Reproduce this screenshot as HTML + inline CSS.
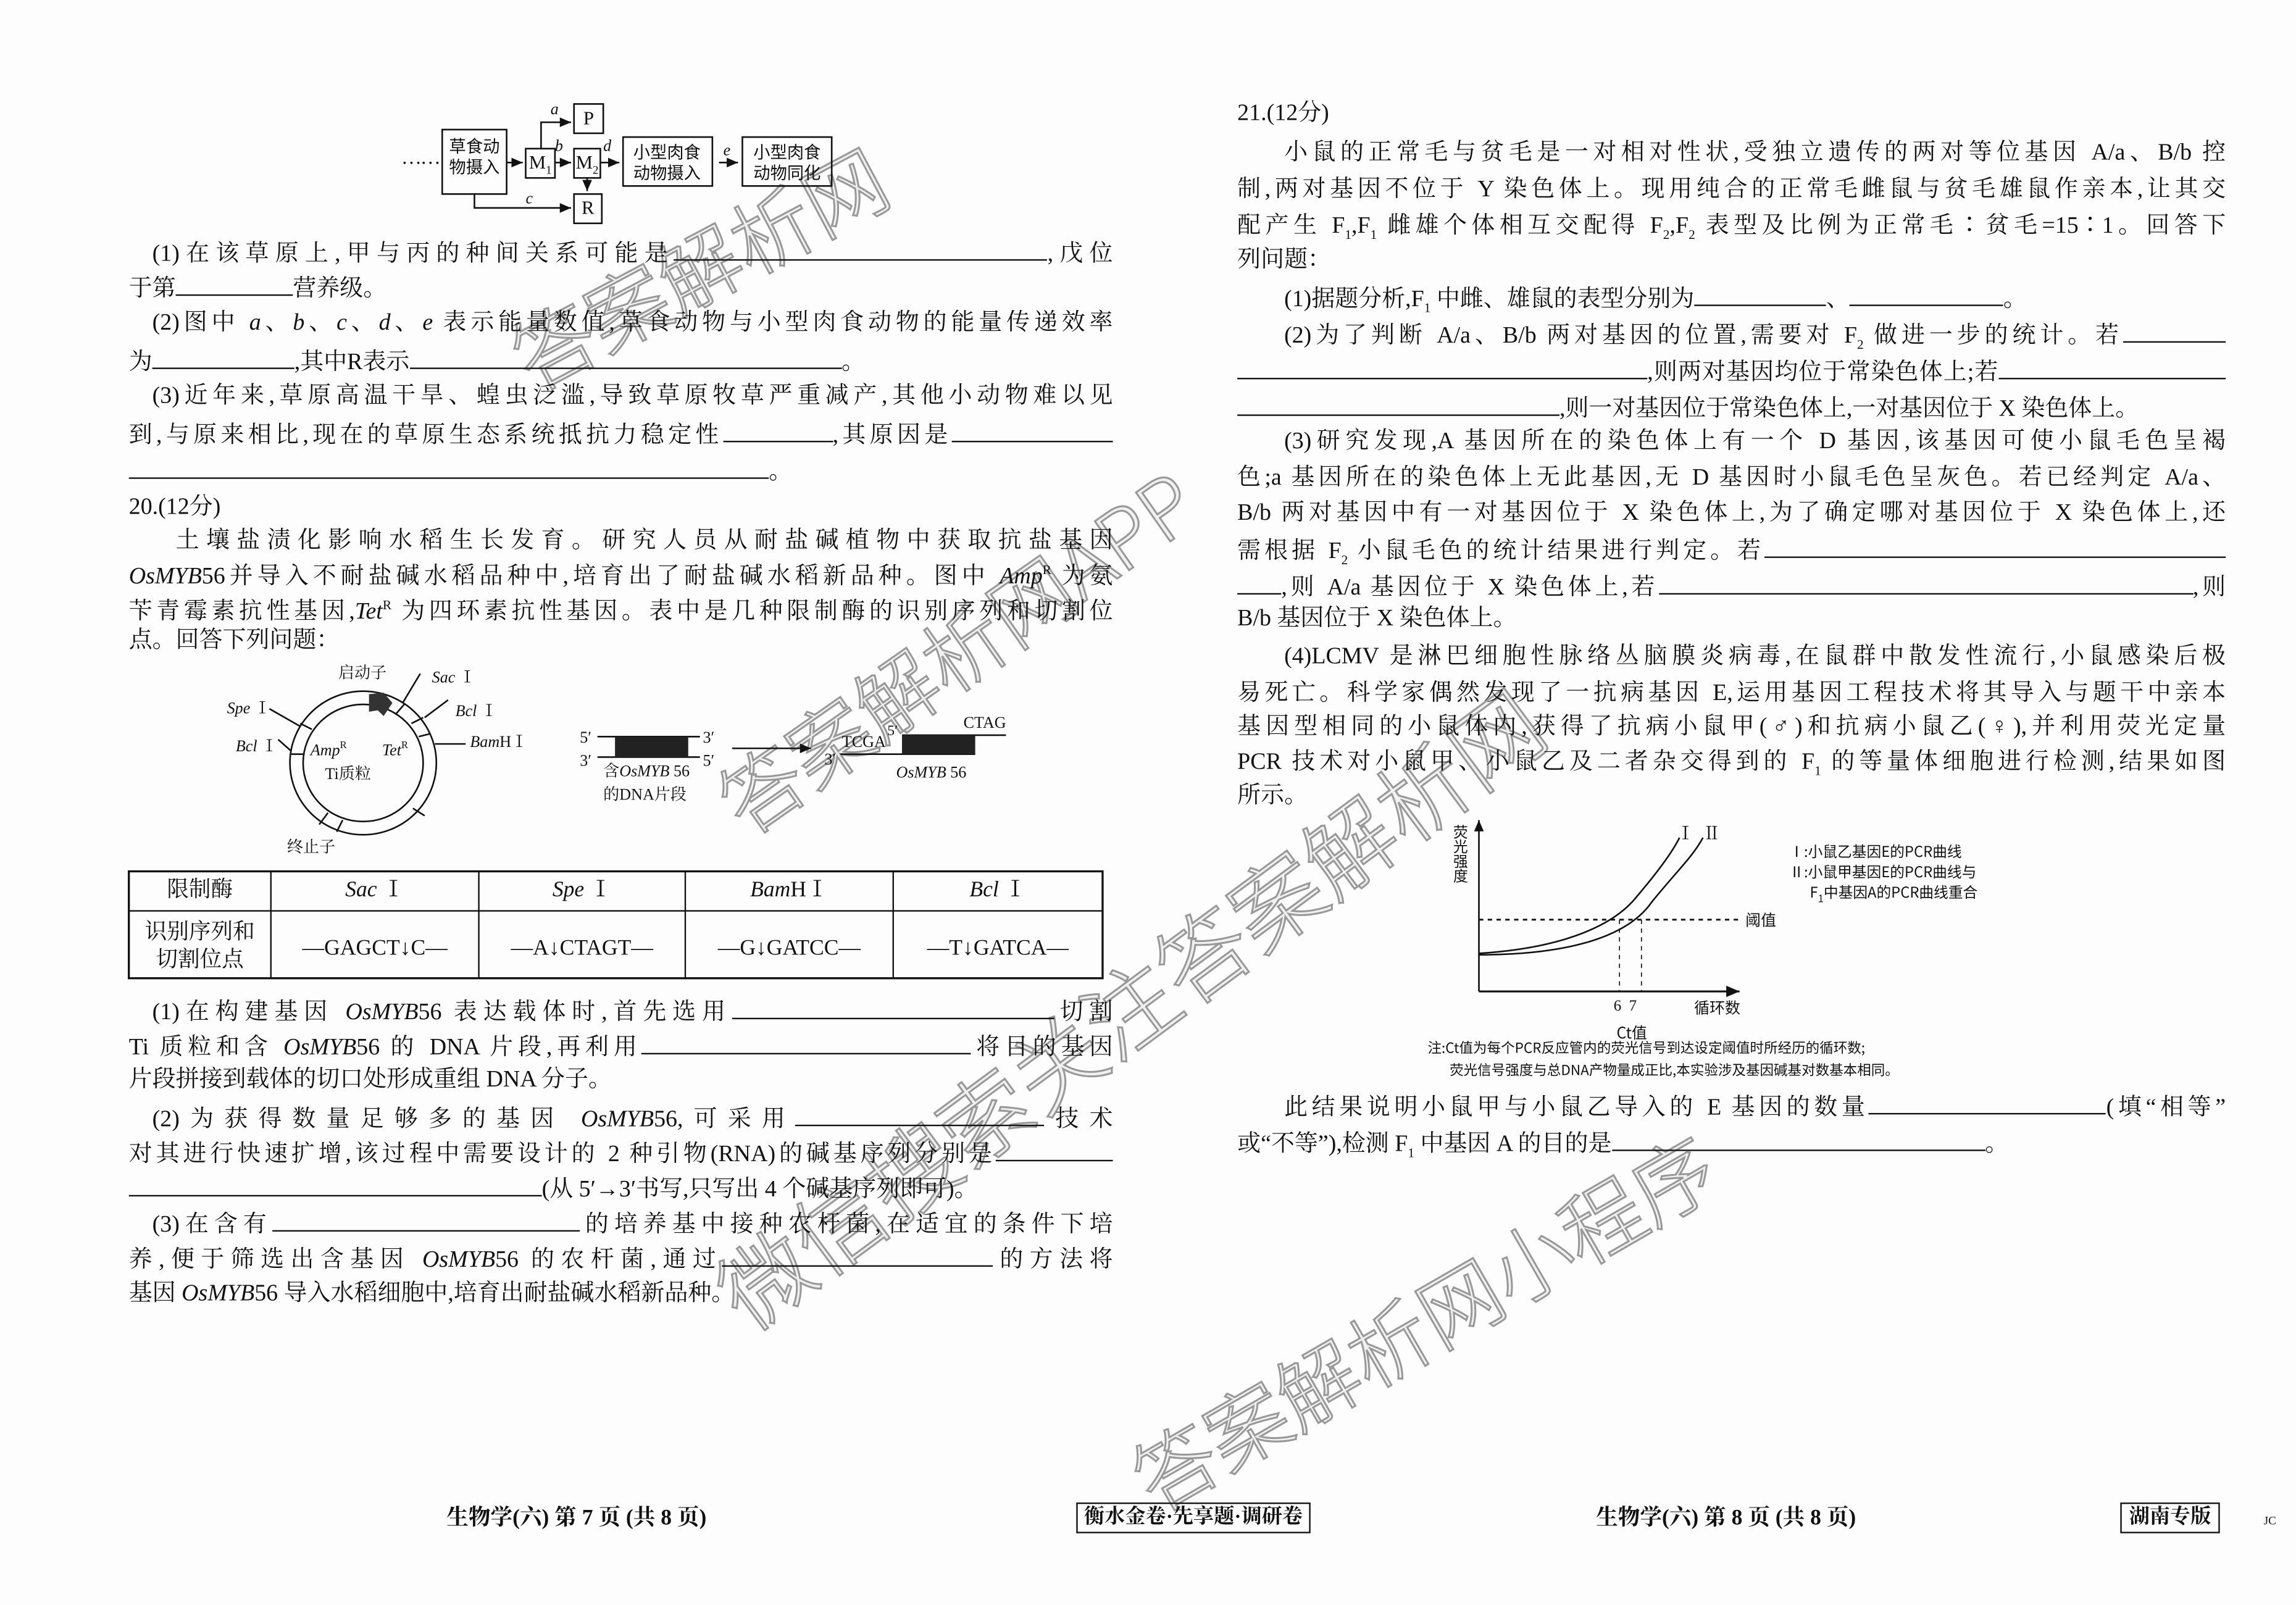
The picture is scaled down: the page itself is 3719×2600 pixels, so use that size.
<!DOCTYPE html>
<html><head><meta charset="utf-8">
<style>
html,body{margin:0;padding:0;background:#fff;}
#wrap{width:3719px;height:2600px;overflow:hidden;position:relative;background:#fdfdfd;}
#c{position:absolute;left:0;top:0;width:1568px;height:1096px;transform:scale(2.3718,2.3723);transform-origin:0 0;font-family:"Liberation Serif","Noto Serif CJK SC",serif;color:#111;}
.l{position:absolute;white-space:nowrap;font-size:16px;line-height:20px;}
.j{position:absolute;white-space:nowrap;font-size:16px;line-height:20px;text-align:justify;text-align-last:justify;}
.b{display:inline-block;border-bottom:1px solid #111;height:15px;vertical-align:baseline;}
i{font-style:italic;}
.s{position:absolute;white-space:nowrap;font-size:11px;line-height:13px;}
.wm{position:absolute;left:0;top:0;white-space:nowrap;font-family:"Noto Sans CJK SC",sans-serif;color:rgba(150,150,150,0.12);-webkit-text-stroke:1.3px rgba(120,120,120,0.75);font-weight:300;line-height:1;}
.bx{position:absolute;border:1.2px solid #111;box-sizing:border-box;font-size:11.5px;line-height:14px;text-align:center;}
</style></head><body><div id="wrap"><div id="c">

<!-- watermarks -->
<div class="wm" style="font-size:56px;transform:translate(477px,182px) translate(-50%,-50%) rotate(-28deg);">答案解析网</div>
<div class="wm" style="font-size:56px;transform:translate(653px,444px) translate(-50%,-50%) rotate(-35deg);">答案解析网APP</div>
<div class="wm" style="font-size:62px;transform:translate(770px,686px) translate(-50%,-50%) rotate(-36.5deg);">微信搜索关注答案解析网</div>
<div class="wm" style="font-size:56px;transform:translate(972px,902px) translate(-50%,-50%) rotate(-30deg);">答案解析网小程序</div>

<!-- flow diagram -->
<svg style="position:absolute;left:0;top:0" width="800" height="600">
<defs><marker id="ar" markerWidth="8" markerHeight="8" refX="7" refY="3" orient="auto"><path d="M0,0 L7,3 L0,6 z" fill="#111"/></marker></defs>
<g fill="none" stroke="#111" stroke-width="1.1">
<rect x="302" y="88.5" width="44" height="44"/>
<rect x="359" y="101.5" width="20" height="20"/>
<rect x="392" y="101.5" width="18" height="20"/>
<rect x="392" y="71" width="20" height="20"/>
<rect x="392" y="132.5" width="19" height="20"/>
<rect x="425.5" y="93.6" width="61" height="33.4"/>
<rect x="507" y="93.6" width="61" height="33.4"/>
<line x1="346" y1="111" x2="357" y2="111" marker-end="url(#ar)"/>
<line x1="379" y1="111" x2="390" y2="111" marker-end="url(#ar)"/>
<line x1="410" y1="111" x2="423" y2="111" marker-end="url(#ar)"/>
<line x1="491" y1="111" x2="504" y2="111" marker-end="url(#ar)"/>
<polyline points="369.5,101.5 369.5,83.5 390,83.5" marker-end="url(#ar)"/>
<polyline points="324,132.5 324,142 390,142" marker-end="url(#ar)"/>
<line x1="401" y1="121.5" x2="401" y2="130.5" marker-end="url(#ar)"/>
</g>
<g stroke="#111" stroke-width="1.1" fill="none">
<ellipse cx="248" cy="521" rx="50" ry="49"/>
<ellipse cx="248" cy="521" rx="41" ry="40"/>
<line x1="208" y1="515" x2="199" y2="515"/>
<line x1="213" y1="498" x2="205" y2="494"/>
<line x1="286" y1="503" x2="294" y2="501"/>
<line x1="281" y1="494" x2="289" y2="490"/>
<line x1="270" y1="488" x2="276" y2="481"/>
<line x1="282" y1="552" x2="290" y2="557"/>
<line x1="224" y1="555" x2="218" y2="563"/>
<line x1="234" y1="560" x2="230" y2="568"/>
<line x1="184" y1="484" x2="205" y2="496"/>
<line x1="275" y1="480" x2="287" y2="460"/>
<line x1="290" y1="490" x2="306" y2="478"/>
<line x1="297" y1="508" x2="318" y2="508"/>
<line x1="190" y1="505" x2="199" y2="513"/>
<line x1="408" y1="503" x2="478" y2="503"/>
<line x1="408" y1="517" x2="478" y2="517"/>
<line x1="500" y1="511" x2="554" y2="511" marker-end="url(#ar)"/>
<line x1="616" y1="502" x2="687" y2="502"/>
<line x1="574" y1="515" x2="666" y2="515"/>
</g>
<path d="M252,474 L262,473 L268,480 L262,489 L258,485 L252,486 z" fill="#333"/>
<rect x="420" y="503" width="50" height="14" fill="#222"/>
<rect x="616" y="502" width="50" height="13" fill="#222"/>
</svg>
<div class="l" style="left:274px;top:99px;font-size:14px;letter-spacing:-1px">……</div>
<div class="bx" style="left:302px;top:93px;width:44px;border:none;font-family:'Noto Sans CJK SC',sans-serif;font-size:11.5px">草食动<br>物摄入</div>
<div class="bx" style="left:359px;top:104px;width:20px;border:none;font-size:13px">M<sub style="font-size:8px">1</sub></div>
<div class="bx" style="left:391px;top:104px;width:20px;border:none;font-size:13px">M<sub style="font-size:8px">2</sub></div>
<div class="bx" style="left:392px;top:74px;width:20px;border:none;font-size:13px">P</div>
<div class="bx" style="left:392px;top:135px;width:19px;border:none;font-size:13px">R</div>
<div class="bx" style="left:425px;top:97px;width:61px;border:none;font-family:'Noto Sans CJK SC',sans-serif;font-size:11.5px">小型肉食<br>动物摄入</div>
<div class="bx" style="left:507px;top:97px;width:61px;border:none;font-family:'Noto Sans CJK SC',sans-serif;font-size:11.5px">小型肉食<br>动物同化</div>
<div class="s" style="left:376px;top:69px;font-style:italic">a</div>
<div class="s" style="left:379px;top:94px;font-style:italic">b</div>
<div class="s" style="left:412px;top:94px;font-style:italic">d</div>
<div class="s" style="left:359px;top:130px;font-style:italic">c</div>
<div class="s" style="left:494px;top:97px;font-style:italic">e</div>

<!-- left column text -->
<div class="j" style="left:104px;top:162px;width:656px">(1)在该草原上,甲与丙的种间关系可能是<span class="b" style="width:255px"></span>,戊位</div>
<div class="l" style="left:88px;top:186px">于第<span class="b" style="width:80px"></span>营养级。</div>
<div class="j" style="left:104px;top:211px;width:656px">(2)图中 <i>a</i>、<i>b</i>、<i>c</i>、<i>d</i>、<i>e</i> 表示能量数值,草食动物与小型肉食动物的能量传递效率</div>
<div class="l" style="left:88px;top:236px">为<span class="b" style="width:97px"></span>,其中R表示<span class="b" style="width:295px"></span>。</div>
<div class="j" style="left:104px;top:261px;width:656px">(3)近年来,草原高温干旱、蝗虫泛滥,导致草原牧草严重减产,其他小动物难以见</div>
<div class="j" style="left:88px;top:286px;width:672px">到,与原来相比,现在的草原生态系统抵抗力稳定性<span class="b" style="width:75px"></span>,其原因是<span class="b" style="width:110px"></span></div>
<div class="l" style="left:88px;top:311px"><span class="b" style="width:437px"></span>。</div>
<div class="l" style="left:88px;top:337px">20.(12分)</div>
<div class="j" style="left:120px;top:360px;width:640px">土壤盐渍化影响水稻生长发育。研究人员从耐盐碱植物中获取抗盐基因</div>
<div class="j" style="left:88px;top:379px;width:672px"><i>OsMYB</i>56并导入不耐盐碱水稻品种中,培育出了耐盐碱水稻新品种。图中 <i>Amp</i><sup style="font-size:9px">R</sup> 为氨</div>
<div class="j" style="left:88px;top:403px;width:672px">苄青霉素抗性基因,<i>Tet</i><sup style="font-size:9px">R</sup> 为四环素抗性基因。表中是几种限制酶的识别序列和切割位</div>
<div class="l" style="left:88px;top:428px">点。回答下列问题：</div>

<!-- plasmid labels -->
<div class="s" style="left:231px;top:454px">启动子</div>
<div class="s" style="left:295px;top:457px"><i>Sac</i> Ⅰ</div>
<div class="s" style="left:155px;top:478px"><i>Spe</i> Ⅰ</div>
<div class="s" style="left:311px;top:480px"><i>Bcl</i> Ⅰ</div>
<div class="s" style="left:321px;top:501px"><i>Bam</i>HⅠ</div>
<div class="s" style="left:161px;top:504px"><i>Bcl</i> Ⅰ</div>
<div class="s" style="left:212px;top:503px"><i>Amp</i><sup style="font-size:7px">R</sup></div>
<div class="s" style="left:261px;top:503px"><i>Tet</i><sup style="font-size:7px">R</sup></div>
<div class="s" style="left:222px;top:523px">Ti质粒</div>
<div class="s" style="left:196px;top:573px">终止子</div>
<div class="s" style="left:396px;top:498px">5′</div>
<div class="s" style="left:480px;top:498px">3′</div>
<div class="s" style="left:396px;top:514px">3′</div>
<div class="s" style="left:480px;top:514px">5′</div>
<div class="s" style="left:412px;top:521px">含<i>OsMYB</i> 56</div>
<div class="s" style="left:412px;top:537px">的DNA片段</div>
<div class="s" style="left:575px;top:501px">TCGA</div>
<div class="s" style="left:606px;top:493px;font-size:10px">5′</div>
<div class="s" style="left:658px;top:488px">CTAG</div>
<div class="s" style="left:563px;top:513px">3′</div>
<div class="s" style="left:612px;top:522px"><i>OsMYB</i> 56</div>

<!-- table -->
<svg style="position:absolute;left:0;top:0" width="800" height="700">
<g stroke="#111" fill="none"><rect x="88" y="595" width="665" height="73" stroke-width="1.4"/>
<line x1="88" y1="622" x2="753" y2="622"/>
<line x1="185" y1="595" x2="185" y2="668"/><line x1="327" y1="595" x2="327" y2="668"/>
<line x1="468" y1="595" x2="468" y2="668"/><line x1="610" y1="595" x2="610" y2="668"/></g></svg>
<div class="l" style="left:88px;top:598px;width:97px;text-align:center;font-size:15px">限制酶</div>
<div class="l" style="left:185px;top:598px;width:142px;text-align:center;font-size:15px"><i>Sac</i> Ⅰ</div>
<div class="l" style="left:327px;top:598px;width:141px;text-align:center;font-size:15px"><i>Spe</i> Ⅰ</div>
<div class="l" style="left:468px;top:598px;width:142px;text-align:center;font-size:15px"><i>Bam</i>HⅠ</div>
<div class="l" style="left:610px;top:598px;width:143px;text-align:center;font-size:15px"><i>Bcl</i> Ⅰ</div>
<div class="l" style="left:88px;top:627px;width:97px;text-align:center;font-size:15px">识别序列和</div>
<div class="l" style="left:88px;top:646px;width:97px;text-align:center;font-size:15px">切割位点</div>
<div class="l" style="left:185px;top:638px;width:142px;text-align:center;font-size:15px">—GAGCT↓C—</div>
<div class="l" style="left:327px;top:638px;width:141px;text-align:center;font-size:15px">—A↓CTAGT—</div>
<div class="l" style="left:468px;top:638px;width:142px;text-align:center;font-size:15px">—G↓GATCC—</div>
<div class="l" style="left:610px;top:638px;width:143px;text-align:center;font-size:15px">—T↓GATCA—</div>

<div class="j" style="left:104px;top:680px;width:656px">(1)在构建基因 <i>OsMYB</i>56 表达载体时,首先选用<span class="b" style="width:220px"></span>切割</div>
<div class="j" style="left:88px;top:704px;width:672px">Ti 质粒和含 <i>OsMYB</i>56 的 DNA 片段,再利用<span class="b" style="width:225px"></span>将目的基因</div>
<div class="l" style="left:88px;top:728px">片段拼接到载体的切口处形成重组 DNA 分子。</div>
<div class="j" style="left:104px;top:753px;width:656px">(2)为获得数量足够多的基因 <i>OsMYB</i>56,可采用<span class="b" style="width:170px"></span>技术</div>
<div class="j" style="left:88px;top:777px;width:672px">对其进行快速扩增,该过程中需要设计的 2 种引物(RNA)的碱基序列分别是<span class="b" style="width:80px"></span></div>
<div class="l" style="left:88px;top:801px"><span class="b" style="width:282px"></span>(从 5′→3′书写,只写出 4 个碱基序列即可)。</div>
<div class="j" style="left:104px;top:825px;width:656px">(3)在含有<span class="b" style="width:210px"></span>的培养基中接种农杆菌,在适宜的条件下培</div>
<div class="j" style="left:88px;top:849px;width:672px">养,便于筛选出含基因 <i>OsMYB</i>56 的农杆菌,通过<span class="b" style="width:185px"></span>的方法将</div>
<div class="l" style="left:88px;top:874px">基因 <i>OsMYB</i>56 导入水稻细胞中,培育出耐盐碱水稻新品种。</div>

<!-- right column -->
<div class="l" style="left:845px;top:68px">21.(12分)</div>
<div class="j" style="left:877px;top:95px;width:643px">小鼠的正常毛与贫毛是一对相对性状,受独立遗传的两对等位基因 A/a、B/b 控</div>
<div class="j" style="left:845px;top:120px;width:675px">制,两对基因不位于 Y 染色体上。现用纯合的正常毛雌鼠与贫毛雄鼠作亲本,让其交</div>
<div class="j" style="left:845px;top:145px;width:675px">配产生 F<sub style="font-size:9px">1</sub>,F<sub style="font-size:9px">1</sub> 雌雄个体相互交配得 F<sub style="font-size:9px">2</sub>,F<sub style="font-size:9px">2</sub> 表型及比例为正常毛∶贫毛=15∶1。回答下</div>
<div class="l" style="left:845px;top:168px">列问题：</div>
<div class="l" style="left:877px;top:193px">(1)据题分析,F<sub style="font-size:9px">1</sub> 中雌、雄鼠的表型分别为<span class="b" style="width:90px"></span>、<span class="b" style="width:105px"></span>。</div>
<div class="j" style="left:877px;top:218px;width:643px">(2)为了判断 A/a、B/b 两对基因的位置,需要对 F<sub style="font-size:9px">2</sub> 做进一步的统计。若<span class="b" style="width:70px"></span></div>
<div class="j" style="left:845px;top:243px;width:675px"><span class="b" style="width:280px"></span>,则两对基因均位于常染色体上;若<span class="b" style="width:155px"></span></div>
<div class="l" style="left:845px;top:268px"><span class="b" style="width:220px"></span>,则一对基因位于常染色体上,一对基因位于 X 染色体上。</div>
<div class="j" style="left:877px;top:292px;width:643px">(3)研究发现,A 基因所在的染色体上有一个 D 基因,该基因可使小鼠毛色呈褐</div>
<div class="j" style="left:845px;top:317px;width:675px">色;a 基因所在的染色体上无此基因,无 D 基因时小鼠毛色呈灰色。若已经判定 A/a、</div>
<div class="j" style="left:845px;top:341px;width:675px">B/b 两对基因中有一对基因位于 X 染色体上,为了确定哪对基因位于 X 染色体上,还</div>
<div class="j" style="left:845px;top:365px;width:675px">需根据 F<sub style="font-size:9px">2</sub> 小鼠毛色的统计结果进行判定。若<span class="b" style="width:315px"></span></div>
<div class="j" style="left:845px;top:390px;width:675px"><span class="b" style="width:30px"></span>,则 A/a 基因位于 X 染色体上,若<span class="b" style="width:365px"></span>,则</div>
<div class="l" style="left:845px;top:413px">B/b 基因位于 X 染色体上。</div>
<div class="j" style="left:877px;top:439px;width:643px">(4)LCMV 是淋巴细胞性脉络丛脑膜炎病毒,在鼠群中散发性流行,小鼠感染后极</div>
<div class="j" style="left:845px;top:464px;width:675px">易死亡。科学家偶然发现了一抗病基因 E,运用基因工程技术将其导入与题干中亲本</div>
<div class="j" style="left:845px;top:487px;width:675px">基因型相同的小鼠体内,获得了抗病小鼠甲(♂)和抗病小鼠乙(♀),并利用荧光定量</div>
<div class="j" style="left:845px;top:511px;width:675px">PCR 技术对小鼠甲、小鼠乙及二者杂交得到的 F<sub style="font-size:9px">1</sub> 的等量体细胞进行检测,结果如图</div>
<div class="l" style="left:845px;top:534px">所示。</div>

<!-- graph -->
<svg style="position:absolute;left:0;top:0" width="1568" height="800">
<defs><marker id="ar2" markerWidth="8" markerHeight="8" refX="7" refY="3" orient="auto"><path d="M0,0 L7,3 L0,6 z" fill="#111"/></marker></defs>
<g fill="none" stroke="#111">
<line x1="1010" y1="677" x2="1010" y2="560" stroke-width="1.1" marker-end="url(#ar2)"/>
<line x1="1010" y1="677" x2="1188" y2="677" stroke-width="1.3" marker-end="url(#ar2)"/>
<line x1="1010" y1="628" x2="1190" y2="628" stroke-dasharray="3,3" stroke-width="1.2"/>
<line x1="1106" y1="628" x2="1106" y2="677" stroke-dasharray="3,3" stroke-width="0.7"/>
<line x1="1121" y1="628" x2="1121" y2="677" stroke-dasharray="3,3" stroke-width="0.7"/>
<path d="M1010,651 C1060,648 1100,635 1118,612 C1135,592 1143,580 1147,572" stroke-width="1.1"/>
<path d="M1010,652 C1065,652 1110,642 1128,616 C1145,595 1156,585 1163,572" stroke-width="1.1"/>
</g></svg>
<div class="s" style="left:1145px;top:563px;font-size:12px">Ⅰ&nbsp;&nbsp;Ⅱ</div>
<div class="s" style="left:991px;top:563px;writing-mode:vertical-rl;font-size:10px;font-family:'Noto Sans CJK SC',sans-serif">荧光强度</div>
<div class="s" style="left:1222px;top:574px;font-size:10px;font-family:'Noto Sans CJK SC',sans-serif">Ⅰ:小鼠乙基因E的PCR曲线</div>
<div class="s" style="left:1222px;top:588px;font-size:10px;font-family:'Noto Sans CJK SC',sans-serif">Ⅱ:小鼠甲基因E的PCR曲线与</div>
<div class="s" style="left:1236px;top:602px;font-size:10px;font-family:'Noto Sans CJK SC',sans-serif">F<sub style="font-size:7px">1</sub>中基因A的PCR曲线重合</div>
<div class="s" style="left:1192px;top:622px;font-size:10.5px;font-family:'Noto Sans CJK SC',sans-serif">阈值</div>
<div class="s" style="left:1102px;top:681px;font-size:10.5px">6&nbsp;&nbsp;7</div>
<div class="s" style="left:1157px;top:682px;font-size:10.5px;font-family:'Noto Sans CJK SC',sans-serif">循环数</div>
<div class="s" style="left:1104px;top:699px;font-size:10.5px;font-family:'Noto Sans CJK SC',sans-serif">Ct值</div>
<div class="s" style="left:975px;top:709px;font-size:9.5px;font-family:'Noto Sans CJK SC',sans-serif">注:Ct值为每个PCR反应管内的荧光信号到达设定阈值时所经历的循环数;</div>
<div class="s" style="left:990px;top:724px;font-size:9.5px;font-family:'Noto Sans CJK SC',sans-serif">荧光信号强度与总DNA产物量成正比,本实验涉及基因碱基对数基本相同。</div>

<div class="j" style="left:877px;top:745px;width:643px">此结果说明小鼠甲与小鼠乙导入的 E 基因的数量<span class="b" style="width:162px"></span>(填“相等”</div>
<div class="l" style="left:845px;top:770px">或“不等”),检测 F<sub style="font-size:9px">1</sub> 中基因 A 的目的是<span class="b" style="width:255px"></span>。</div>

<!-- footer -->
<div class="l" style="left:305px;top:1027px;font-weight:bold;font-size:15px">生物学(六) 第 7 页 (共 8 页)</div>
<div class="l" style="left:735px;top:1026px;width:160px;height:21px;border:1.3px solid #111;box-sizing:border-box;text-align:center;font-weight:bold;font-size:14px;line-height:19px">衡水金卷·先享题·调研卷</div>
<div class="l" style="left:1090px;top:1027px;font-weight:bold;font-size:15px">生物学(六) 第 8 页 (共 8 页)</div>
<div class="l" style="left:1448px;top:1026px;width:68px;height:21px;border:1.3px solid #111;box-sizing:border-box;text-align:center;font-weight:bold;font-size:14px;line-height:19px">湖南专版</div>
<div class="s" style="left:1546px;top:1032px;font-size:8px">JC</div>

</div></div></body></html>
